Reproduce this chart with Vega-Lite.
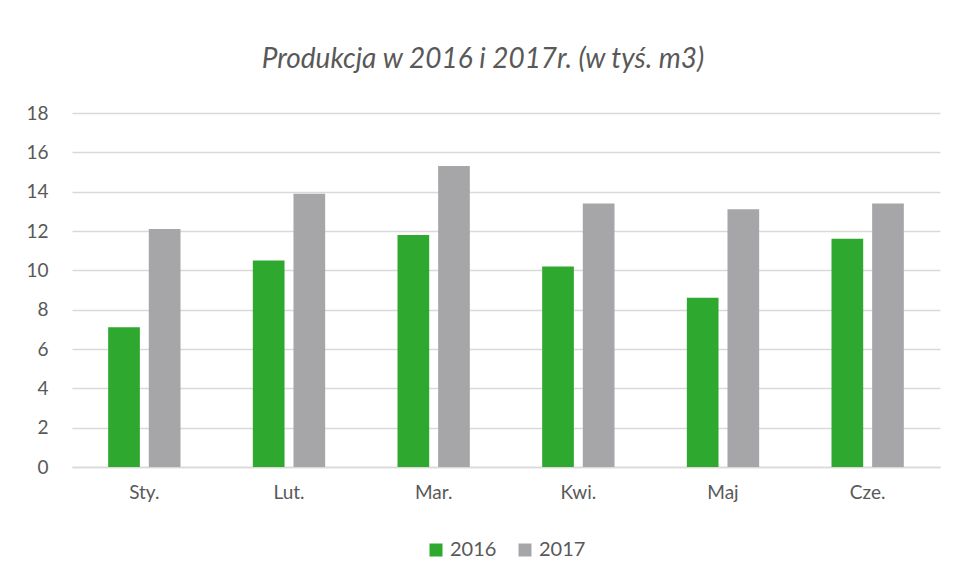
{
  "$schema": "https://vega.github.io/schema/vega-lite/v6.json",
  "autosize": {"type": "none"},
  "width": 868,
  "height": 354,
  "padding": {"left": 72, "top": 113, "right": 15, "bottom": 112},
  "background": "white",
  "title": {
    "text": "Produkcja w 2016 i 2017r. (w tyś. m3)",
    "font": "Lato",
    "fontStyle": "italic",
    "fontWeight": "normal",
    "fontSize": 28,
    "color": "#595959",
    "anchor": "middle",
    "frame": "bounds",
    "offset": 30
  },
  "data": {
    "values": [
      {"month": "Sty.", "year": "2016", "value": 7.1},
      {"month": "Sty.", "year": "2017", "value": 12.1},
      {"month": "Lut.", "year": "2016", "value": 10.5},
      {"month": "Lut.", "year": "2017", "value": 13.9},
      {"month": "Mar.", "year": "2016", "value": 11.8},
      {"month": "Mar.", "year": "2017", "value": 15.3},
      {"month": "Kwi.", "year": "2016", "value": 10.2},
      {"month": "Kwi.", "year": "2017", "value": 13.4},
      {"month": "Maj", "year": "2016", "value": 8.6},
      {"month": "Maj", "year": "2017", "value": 13.1},
      {"month": "Cze.", "year": "2016", "value": 11.6},
      {"month": "Cze.", "year": "2017", "value": 13.4}
    ]
  },
  "mark": {"type": "bar"},
  "encoding": {
    "x": {
      "field": "month",
      "type": "nominal",
      "sort": null,
      "scale": {"paddingInner": 0.5, "paddingOuter": 0.25},
      "axis": {
        "title": null,
        "labelAngle": 0,
        "labelFont": "Lato",
        "labelFontSize": 19,
        "labelColor": "#595959",
        "labelPadding": 16,
        "ticks": false,
        "domainColor": "#d9d9d9",
        "domainWidth": 1.5
      }
    },
    "xOffset": {
      "field": "year",
      "type": "nominal",
      "scale": {"paddingInner": 0.22, "paddingOuter": 0}
    },
    "y": {
      "field": "value",
      "type": "quantitative",
      "scale": {"domain": [0, 18], "nice": false},
      "axis": {
        "title": null,
        "values": [0, 2, 4, 6, 8, 10, 12, 14, 16, 18],
        "labelFont": "Lato",
        "labelFontSize": 19,
        "labelColor": "#595959",
        "labelPadding": 24,
        "ticks": false,
        "domain": false,
        "gridColor": "#d9d9d9",
        "gridWidth": 1.5
      }
    },
    "color": {
      "field": "year",
      "type": "nominal",
      "scale": {"domain": ["2016", "2017"], "range": ["#2fa82f", "#a6a6a9"]},
      "legend": {
        "title": null,
        "orient": "bottom",
        "direction": "horizontal",
        "symbolType": "square",
        "symbolSize": 169,
        "symbolStrokeWidth": 0,
        "labelFont": "Lato",
        "labelFontSize": 20,
        "labelColor": "#595959",
        "columnPadding": 18,
        "offset": 38
      }
    }
  },
  "config": {
    "view": {"stroke": null},
    "legend": {"layout": {"bottom": {"anchor": "middle"}}}
  }
}
